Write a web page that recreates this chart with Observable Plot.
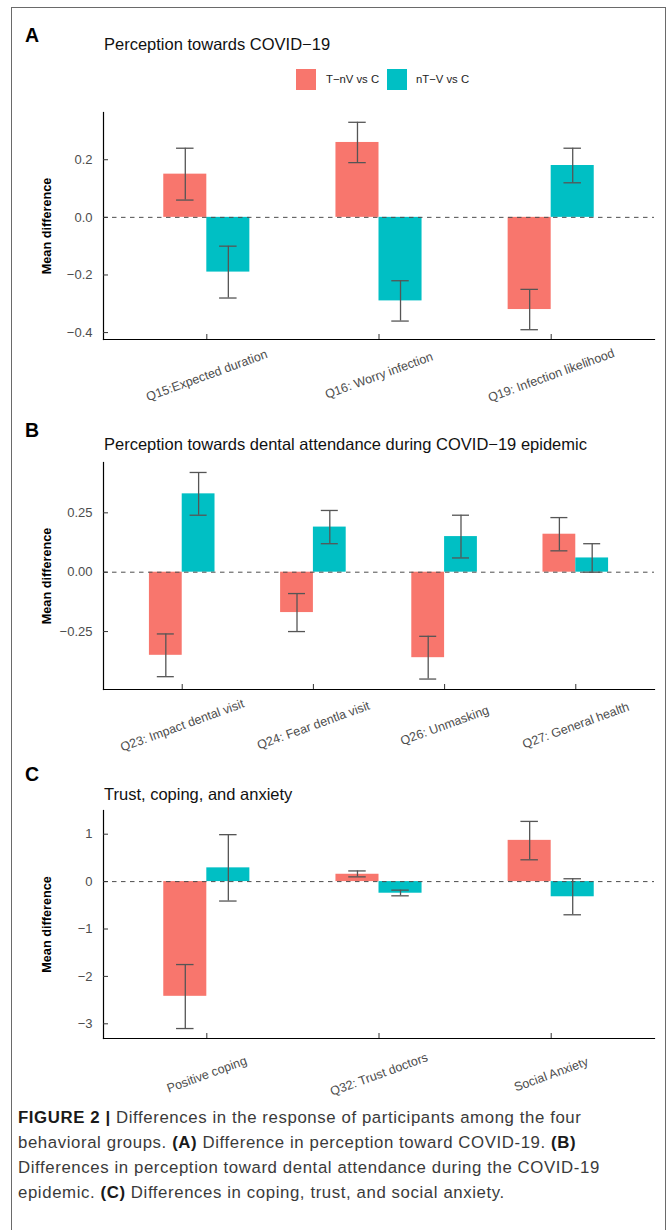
<!DOCTYPE html>
<html>
<head>
<meta charset="utf-8">
<script src="https://cdn.jsdelivr.net/npm/d3@7"></script>
<script src="https://cdn.jsdelivr.net/npm/@observablehq/plot@0.6"></script>
<style>
html, body { margin: 0; padding: 0; background: #fff; }
body { width: 667px; height: 1230px; position: relative; overflow: hidden;
  font-family: "Liberation Sans", Arial, Helvetica, sans-serif; }
.abs { position: absolute; white-space: nowrap; line-height: 1; }
#frame { position: absolute; left: 11px; top: 7px; width: 655px; height: 1300px;
  border: 1.5px solid #6a6a6a; border-bottom: none; box-sizing: border-box; }
.letter { font-weight: bold; font-size: 19.5px; color: #000; left: 25px; }
.title { font-size: 16.5px; color: #111; left: 104px; }
.key { position: absolute; width: 20px; height: 21px; }
.ktext { font-size: 11.3px; color: #222; }
.plot { position: absolute; left: 0; }
#caption { position: absolute; left: 18px; top: 1104.5px; font-size: 16.8px; line-height: 25.2px;
  letter-spacing: 0.6px; color: #3a3a3a; white-space: nowrap; }
#caption b { color: #1a1a1a; }
</style>
</head>
<body>
<div id="frame"></div>

<div class="abs letter" style="top:25.5px">A</div>
<div class="abs title" style="top:36px">Perception towards COVID−19</div>
<div class="key" style="left:296px;top:69px;background:#F8766D"></div>
<div class="abs ktext" style="left:326px;top:74px">T−nV vs C</div>
<div class="key" style="left:387px;top:69px;background:#00BFC4"></div>
<div class="abs ktext" style="left:416px;top:74px">nT−V vs C</div>

<div class="abs letter" style="top:420.5px">B</div>
<div class="abs title" style="top:436px">Perception towards dental attendance during COVID−19 epidemic</div>

<div class="abs letter" style="top:764.5px">C</div>
<div class="abs title" style="top:786px">Trust, coping, and anxiety</div>

<div id="pA" class="plot" style="top:100px"></div>
<div id="pB" class="plot" style="top:455px"></div>
<div id="pC" class="plot" style="top:805px"></div>

<div id="caption"><b>FIGURE 2 |</b> Differences in the response of participants among the four<br>behavioral groups. <b>(A)</b> Difference in perception toward COVID-19. <b>(B)</b><br>Differences in perception toward dental attendance during the COVID-19<br>epidemic. <b>(C)</b> Differences in coping, trust, and social anxiety.</div>

<script>
// ---- Data ----
const seriesNames = ["T−nV vs C", "nT−V vs C"];
const seriesColors = ["#F8766D", "#00BFC4"];

// Panel A
const catsA = ["Q15:Expected duration", "Q16: Worry infection", "Q19: Infection likelihood"];
const redA = [0.15, 0.26, -0.32];
const redLoA = [0.06, 0.19, -0.39];
const redHiA = [0.24, 0.33, -0.25];
const tealA = [-0.19, -0.29, 0.18];
const tealLoA = [-0.28, -0.36, 0.12];
const tealHiA = [-0.10, -0.22, 0.24];
const yDomainA = [-0.424, 0.364];
const yTicksA = [-0.4, -0.2, 0, 0.2];

// Panel B
const catsB = ["Q23: Impact dental visit", "Q24: Fear dentla visit", "Q26: Unmasking", "Q27: General health"];
const redB = [-0.35, -0.17, -0.36, 0.16];
const redLoB = [-0.44, -0.25, -0.45, 0.09];
const redHiB = [-0.26, -0.09, -0.27, 0.23];
const tealB = [0.33, 0.19, 0.15, 0.06];
const tealLoB = [0.24, 0.12, 0.06, 0.00];
const tealHiB = [0.42, 0.26, 0.24, 0.12];
const yDomainB = [-0.494, 0.462];
const yTicksB = [-0.25, 0, 0.25];

// Panel C
const catsC = ["Positive coping", "Q32: Trust doctors", "Social Anxiety"];
const redC = [-2.42, 0.155, 0.87];
const redLoC = [-3.10, 0.10, 0.46];
const redHiC = [-1.75, 0.225, 1.27];
const tealC = [0.29, -0.245, -0.32];
const tealLoC = [-0.41, -0.30, -0.70];
const tealHiC = [0.99, -0.18, 0.06];
const yDomainC = [-3.31, 1.5];
const yTicksC = [-3, -2, -1, 0, 1];

// ---- Drawing ----
const W = 667, ML = 103, MR = 13;
const FONT = '"Liberation Sans", Arial, Helvetica, sans-serif';

function rowsOf(cats, v, lo, hi) {
  return cats.map((c, i) => ({cat: c, value: v[i], lo: lo[i], hi: hi[i]}));
}

function panel(o) {
  const n = o.cats.length;
  const bw = 0.5 * (W - ML - MR) / (n + 0.2);   // band width holding both bars
  const cap = o.cap;
  const capInset = (bw - cap) / 2;
  const red = rowsOf(o.cats, o.red, o.redLo, o.redHi);
  const teal = rowsOf(o.cats, o.teal, o.tealLo, o.tealHi);
  const ebStroke = "#555";
  return Plot.plot({
    width: W, height: o.height,
    marginLeft: ML, marginRight: MR, marginTop: o.marginTop, marginBottom: o.marginBottom,
    style: {fontFamily: FONT, background: "transparent", overflow: "visible"},
    x: {type: "band", domain: o.cats, paddingInner: 0.5, paddingOuter: 0.35, round: false, axis: null},
    y: {domain: o.yDomain, axis: null},
    marks: [
      Plot.barY(red, {x: "cat", y1: 0, y2: "value", fill: seriesColors[0], insetRight: bw / 2}),
      Plot.barY(teal, {x: "cat", y1: 0, y2: "value", fill: seriesColors[1], insetLeft: bw / 2}),
      Plot.ruleY([0], {stroke: "#4d4d4d", strokeWidth: 1, strokeDasharray: "4.5,4.5"}),
      // error bars
      Plot.ruleX(red, {x: "cat", y1: "lo", y2: "hi", dx: -bw / 4, stroke: ebStroke, strokeWidth: 1.3}),
      Plot.tickY(red, {x: "cat", y: "lo", dx: -bw / 4, insetLeft: capInset, insetRight: capInset, stroke: ebStroke, strokeWidth: 1.3}),
      Plot.tickY(red, {x: "cat", y: "hi", dx: -bw / 4, insetLeft: capInset, insetRight: capInset, stroke: ebStroke, strokeWidth: 1.3}),
      Plot.ruleX(teal, {x: "cat", y1: "lo", y2: "hi", dx: bw / 4, stroke: ebStroke, strokeWidth: 1.3}),
      Plot.tickY(teal, {x: "cat", y: "lo", dx: bw / 4, insetLeft: capInset, insetRight: capInset, stroke: ebStroke, strokeWidth: 1.3}),
      Plot.tickY(teal, {x: "cat", y: "hi", dx: bw / 4, insetLeft: capInset, insetRight: capInset, stroke: ebStroke, strokeWidth: 1.3}),
      // axes
      Plot.frame({anchor: "left", stroke: "#000", strokeWidth: 1.2}),
      Plot.frame({anchor: "bottom", stroke: "#000", strokeWidth: 1.2}),
      Plot.axisY({ticks: o.yTicks, tickFormat: o.yFormat, tickSize: -5, tickPadding: 16,
        fontSize: 13, stroke: "#333", fill: "#4d4d4d", label: null}),
      Plot.axisX({tickSize: -5, tickFormat: () => "", stroke: "#333", label: null}),
      Plot.text(o.cats, {x: d => d, frameAnchor: "bottom", dy: 36, rotate: -20,
        textAnchor: "middle", lineAnchor: "middle", fontSize: 12.5, fill: "#4d4d4d"}),
      Plot.text(["Mean difference"], {frameAnchor: "left", dx: -57, rotate: -90,
        textAnchor: "middle", lineAnchor: "middle", fontWeight: "bold", fontSize: 12.7, fill: "#000"})
    ]
  });
}

document.getElementById("pA").append(panel({
  cats: catsA, red: redA, redLo: redLoA, redHi: redHiA, teal: tealA, tealLo: tealLoA, tealHi: tealHiA,
  yDomain: yDomainA, yTicks: yTicksA, yFormat: d3.format(".1f"),
  height: 320, marginTop: 12, marginBottom: 81, cap: 17.5
}));
document.getElementById("pB").append(panel({
  cats: catsB, red: redB, redLo: redLoB, redHi: redHiB, teal: tealB, tealLo: tealLoB, tealHi: tealHiB,
  yDomain: yDomainB, yTicks: yTicksB, yFormat: d3.format(".2f"),
  height: 300, marginTop: 7, marginBottom: 66, cap: 17
}));
document.getElementById("pC").append(panel({
  cats: catsC, red: redC, redLo: redLoC, redHi: redHiC, teal: tealC, tealLo: tealLoC, tealHi: tealHiC,
  yDomain: yDomainC, yTicks: yTicksC, yFormat: d3.format("d"),
  height: 290, marginTop: 5, marginBottom: 57, cap: 17.5
}));
</script>
</body>
</html>
